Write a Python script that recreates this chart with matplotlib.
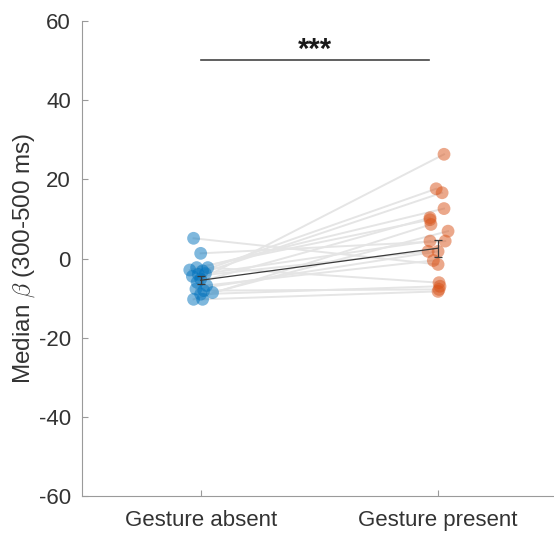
import matplotlib
matplotlib.use('Agg')
import matplotlib.pyplot as plt
import numpy as np

plt.rcParams['font.family'] = ['Liberation Sans', 'DejaVu Sans']
plt.rcParams['axes.unicode_minus'] = False
plt.rcParams['mathtext.fontset'] = 'cm'

# condiciones y valores por sujeto (mediana de beta, 300-500 ms)
condiciones = ['Gesture absent', 'Gesture present']
ausente = [5.1, 1.3, -2.9, -2.3, -2.3, -3.1, -5.2, -7.7, -8.1, -8.6, -10.3, -10.3,
           -4.0, -6.0, -3.8, -9.0, -4.5, -6.8]
presente = [-1.5, 4.4, 12.6, 9.8, -6.1, 17.6, 26.3, 1.8, -7.8, 6.9, 8.6, -8.3,
            16.6, 10.3, 4.4, -7.0, 1.8, -0.5]
# desplazamiento horizontal de cada punto
jit_ausente = [-0.03, 0, -0.046, -0.017, 0.03, 0.008, 0, -0.02, 0.013, 0.05, -0.03,
               0.008, -0.01, -0.015, 0.02, 0.0, -0.035, 0.025]
jit_presente = [0.0, 0.03, 0.025, -0.034, 0.004, -0.008, 0.025, 0.0, 0.004, 0.042,
                -0.03, 0.0, 0.017, -0.034, -0.034, 0.008, -0.042, -0.02]
# resumen de grupo y error
media = [-5.5, 2.6]
error = [1.0, 2.1]
estrellas = '***'

fig = plt.figure(figsize=(5.54, 5.33), dpi=100)
ax = fig.add_axes([0.148, 0.069, 0.857, 0.892])

x1 = 1 + np.array(jit_ausente)
x2 = 2 + np.array(jit_presente)

# lineas por sujeto
for a, b, p, q in zip(x1, x2, ausente, presente):
    ax.plot([a, b], [p, q], color='#e5e5e5', lw=1.4, zorder=1)

ax.scatter(x1, ausente, s=85, color='#0072BD', alpha=0.5, edgecolors='none', zorder=2)
ax.scatter(x2, presente, s=85, color='#D95319', alpha=0.5, edgecolors='none', zorder=2)

# media y error
ax.errorbar([1, 2], media, yerr=error, color='#3a3a3a', lw=0.9, capsize=3,
            capthick=0.9, elinewidth=0.9, zorder=3)

# significancia
ax.plot([1, 1.96], [50, 50], color='#444444', lw=1.2)
ax.text(1.48, 50.6, estrellas, ha='center', va='baseline', fontsize=21,
        fontweight='bold', color='#1a1a1a')

ax.set_xlim(0.5, 2.5)
ax.set_ylim(-60, 60)
ax.set_yticks([-60, -40, -20, 0, 20, 40, 60])
ax.set_xticks([1, 2])
ax.set_xticklabels(condiciones)
ax.set_ylabel(r'Median $\beta$ (300-500 ms)', fontsize=17.5, color='#333333', labelpad=1)

for s in ['top', 'right']:
    ax.spines[s].set_visible(False)
for s in ['left', 'bottom']:
    ax.spines[s].set_color('#9a9a9a')
ax.tick_params(direction='in', length=4, color='#9a9a9a', labelsize=16,
               labelcolor='#333333')
ax.tick_params(axis='y', pad=8)
ax.tick_params(axis='x', pad=10)

plt.savefig('out.png', dpi=100)
